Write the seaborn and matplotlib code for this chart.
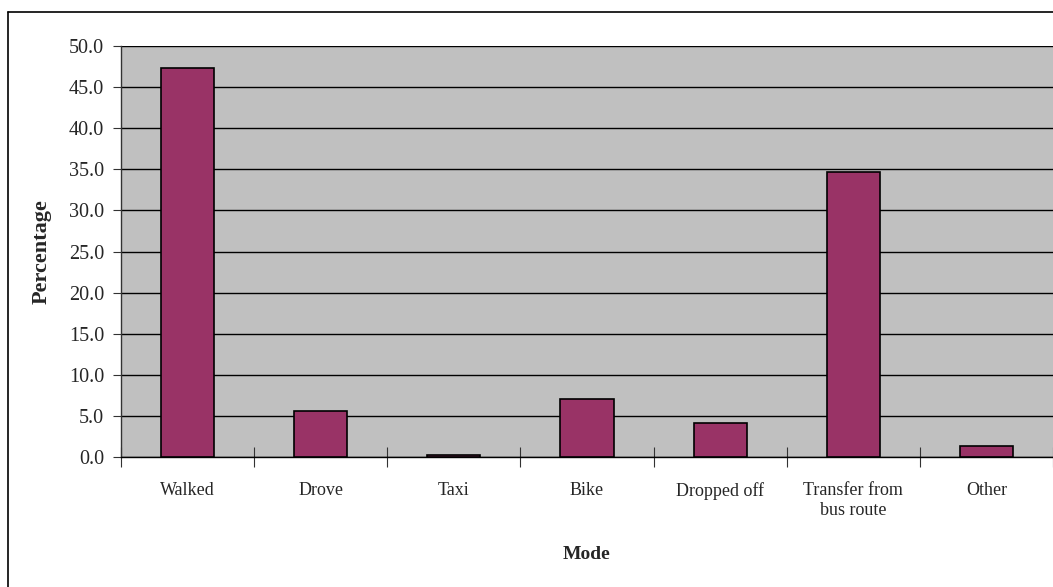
import numpy as np
import pandas as pd
import matplotlib
matplotlib.use('Agg')
import matplotlib.pyplot as plt
import seaborn as sns
from matplotlib.lines import Line2D

# Data
modes = ['Walked', 'Drove', 'Taxi', 'Bike', 'Dropped off', 'Transfer from\nbus route', 'Other']
percentages = [47.3, 5.6, 0.3, 7.0, 4.1, 34.7, 1.3]
yticks = np.arange(0, 50.1, 5)

df = pd.DataFrame({'Mode': modes, 'Percentage': percentages})

sns.set_style('white')
plt.rcParams['font.family'] = ['Liberation Serif', 'DejaVu Serif']

fig = plt.figure(figsize=(10.53, 5.87), dpi=100)
ax = fig.add_axes([0.1149, 0.2215, 0.8851, 0.7001])
ax.set_facecolor('#c0c0c0')

sns.barplot(x='Mode', y='Percentage', data=df, color='#993366', width=0.4,
            edgecolor='black', linewidth=1.2, saturation=1, ax=ax, zorder=3)

ax.set_ylim(0, 50)
ax.set_xlim(-0.5, len(modes) - 0.5)
ax.set_yticks(yticks)
ax.set_yticklabels([f'{v:.1f}' for v in yticks], fontsize=14.5)
ax.yaxis.grid(True, color='black', linewidth=1, zorder=1)
ax.set_axisbelow(True)

# category boundaries as ticks on x axis
ax.set_xticks(np.arange(-0.5, len(modes), 1), minor=True)
ax.tick_params(axis='x', which='minor', direction='inout', length=14, width=0.8, color='#333333', bottom=True)
ax.tick_params(axis='x', which='major', length=0, labelsize=13, pad=18)
ax.tick_params(axis='y', which='major', direction='out', length=6, width=0.8, color='#333333', left=True, pad=6)

for s in ['top', 'right']:
    ax.spines[s].set_visible(False)
ax.spines['left'].set_color('#333333')
ax.spines['bottom'].set_color('black')
ax.spines['left'].set_linewidth(1)
ax.spines['bottom'].set_linewidth(1)

ax.set_xlabel('Mode', fontsize=14, fontweight='bold')
ax.set_ylabel('Percentage', fontsize=16, fontweight='bold')
ax.xaxis.set_label_coords(0.4995, -0.238)
ax.xaxis.label.set_va('center')
ax.yaxis.set_label_coords(-0.0849, 0.5)
ax.yaxis.label.set_va('center')

# outer chart border (left and top edges visible)
fig.add_artist(Line2D([8 / 1053, 8 / 1053], [0, 1 - 12 / 587], color='black', linewidth=1.2, transform=fig.transFigure))
fig.add_artist(Line2D([8 / 1053, 1], [1 - 12 / 587, 1 - 12 / 587], color='black', linewidth=1.2, transform=fig.transFigure))

fig.savefig('out.png', dpi=100)
